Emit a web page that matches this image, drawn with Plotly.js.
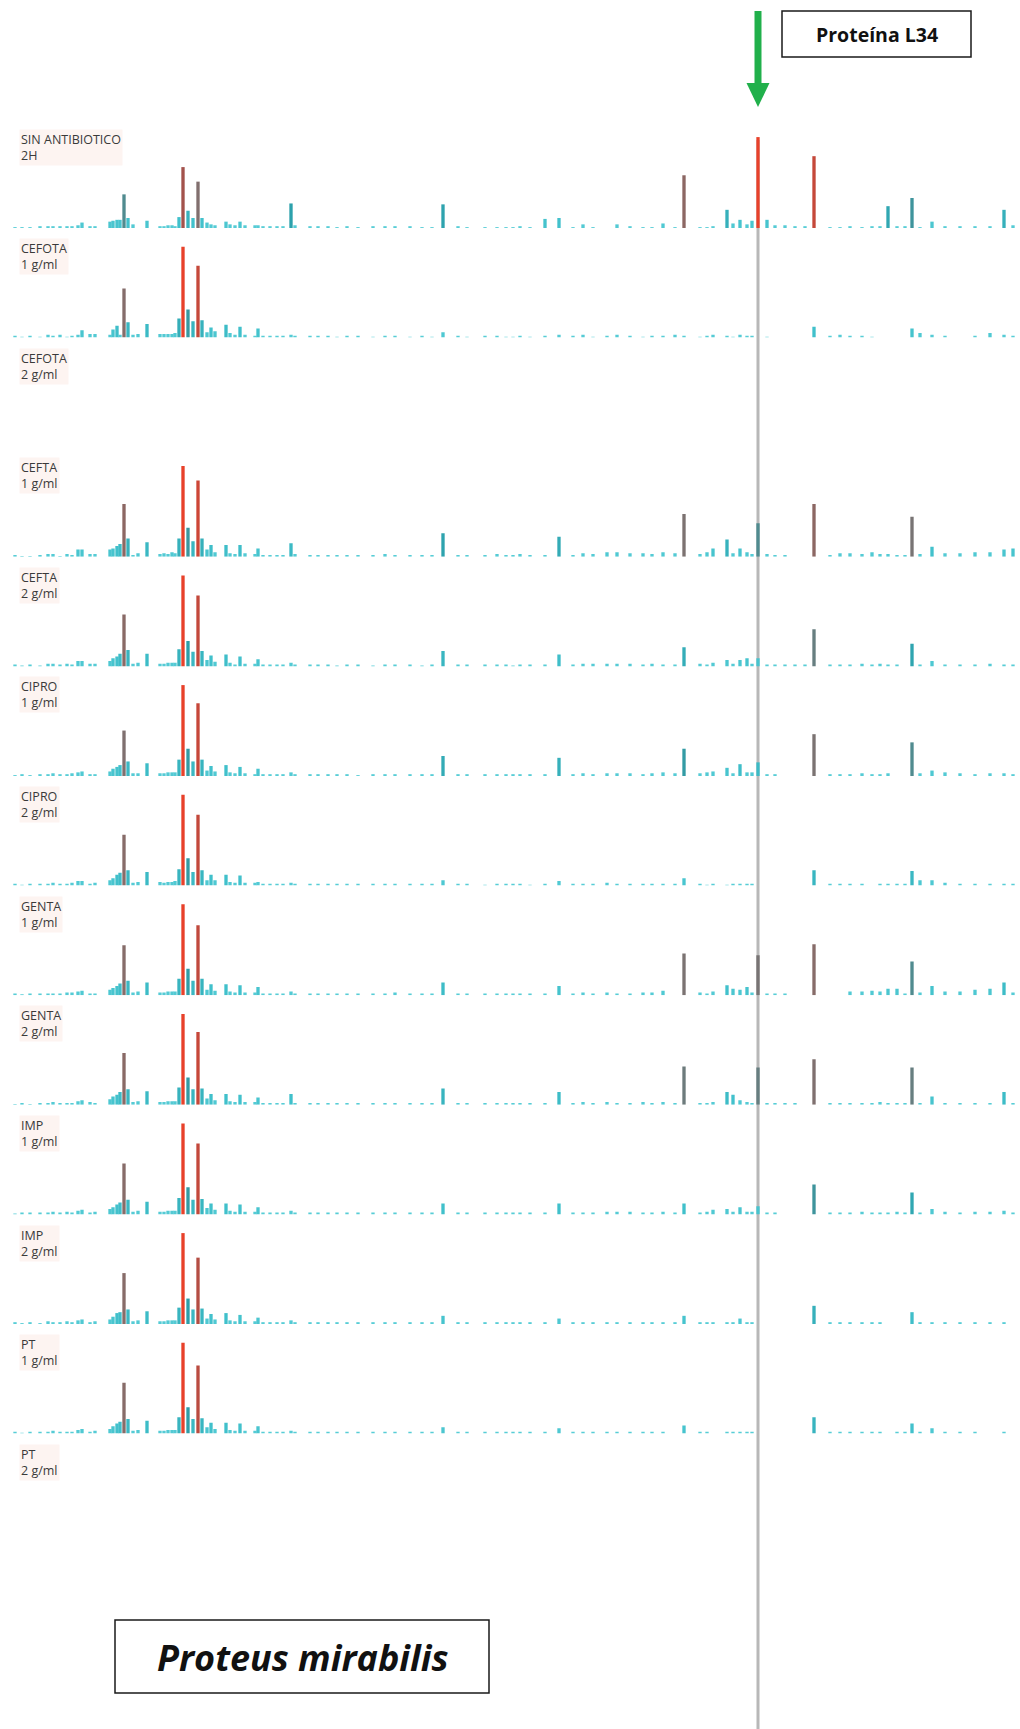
<!DOCTYPE html>
<html>
<head>
<meta charset="utf-8">
<script src="https://cdn.plot.ly/plotly-3.0.1.min.js"></script>
<style>
  html, body { margin: 0; padding: 0; background: #ffffff; }
  #chart { width: 1020px; height: 1729px; }
</style>
</head>
<body>
<div id="chart"></div>
<script>
// Peak positions (m/z) shared by every spectrum
const mz = [
  2270, 2396, 2540, 2720, 2864, 2954, 3080, 3206, 3296, 3404,
  3476, 3620, 3710, 3980, 4034, 4106, 4160, 4232, 4304, 4394,
  4484, 4646, 4880, 4952, 5024, 5096, 5150, 5222, 5294, 5384,
  5474, 5564, 5636, 5726, 5798, 5870, 6068, 6140, 6230, 6320,
  6410, 6590, 6644, 6734, 6860, 6986, 7094, 7238, 7310, 7580,
  7724, 7904, 8066, 8246, 8444, 8714, 8930, 9110, 9380, 9596,
  9776, 9974, 10244, 10406, 10730, 10946, 11108, 11234, 11360, 11540,
  11810, 12062, 12314, 12494, 12674, 12926, 13106, 13340, 13574, 13736,
  13934, 14150, 14312, 14600, 14726, 14834, 15086, 15194, 15320, 15446,
  15536, 15644, 15806, 15950, 16130, 16310, 16490, 16652, 16940, 17120,
  17300, 17516, 17696, 17840, 17984, 18146, 18290, 18416, 18560, 18776,
  19010, 19280, 19550, 19820, 20072, 20234
];

// m/z of ribosomal protein L34
const L34_MZ = 15644;

// Relative intensities (%) per condition, one value per peak in mz
const sinAntibiotico2h = [
  1,1,1,2,2,2,2,2,2,3,
  6,2,2,7,8,9,9,37,11,4,
  0,8,2,2,3,3,2,12,67,19,
  11,51,11,6,4,3,7,4,3,7,
  3,3,3,2,2,2,2,27,3,2,
  2,2,1,2,1,2,2,2,2,1,
  1,26,2,1,1,1,1,1,2,1,
  10,11,1,4,1,0,4,2,1,1,
  5,1,58,1,1,2,20,5,9,4,
  8,100,9,3,3,2,2,79,1,1,
  2,1,2,2,24,2,2,33,1,7,
  2,2,2,2,20,3
];
const cefota1 = [
  2,1,2,1,3,2,3,1,2,3,
  8,4,4,3,9,13,3,54,17,3,
  4,15,4,4,4,4,5,21,100,31,
  18,79,19,6,11,7,14,5,3,12,
  3,2,10,2,2,2,2,3,2,2,
  2,2,1,2,2,1,2,2,1,2,
  1,6,2,1,2,2,1,1,2,1,
  2,3,2,3,1,2,3,2,1,2,
  2,3,2,1,2,3,2,1,3,2,
  2,0,1,0,0,0,0,12,2,3,
  2,2,1,0,0,0,0,10,5,3,
  2,0,2,5,3,2
];
const cefota2 = [];
const cefta1 = [
  2,1,1,2,3,3,1,3,2,8,
  8,3,3,8,9,12,14,58,20,2,
  4,16,3,4,3,5,4,20,100,32,
  17,84,20,8,13,5,13,4,3,13,
  4,3,9,2,2,2,2,15,3,2,
  2,2,2,2,2,2,3,2,2,2,
  2,26,2,2,2,3,2,2,3,2,
  2,22,2,4,3,5,5,4,4,3,
  5,4,47,3,5,9,19,4,9,5,
  3,37,3,2,2,0,0,58,2,4,
  4,3,5,3,3,2,2,44,3,11,
  4,4,5,5,8,9
];
const cefta2 = [
  2,1,2,1,3,3,2,3,2,6,
  6,3,3,6,9,11,14,57,18,3,
  4,14,3,3,4,4,4,19,100,28,
  16,78,17,7,12,5,13,4,2,11,
  3,3,8,2,2,2,2,4,2,2,
  2,2,1,2,2,1,2,2,2,1,
  2,17,2,2,2,2,2,1,2,2,
  2,13,2,3,3,3,3,3,2,3,
  2,2,21,3,2,4,7,3,7,9,
  3,9,2,2,2,2,2,41,2,2,
  2,3,2,3,2,2,0,25,2,6,
  2,2,2,3,2,2
];
const cipro1 = [
  1,2,1,2,2,3,2,2,3,4,
  5,2,2,5,8,10,12,50,16,3,
  3,14,3,3,4,4,4,18,100,30,
  16,80,18,6,11,5,12,4,3,10,
  3,2,8,2,2,2,2,4,2,2,
  2,2,2,2,1,2,2,2,2,2,
  2,22,2,2,2,2,2,2,2,2,
  2,20,2,3,2,3,3,3,2,3,
  4,3,30,3,4,5,9,3,13,4,
  4,15,2,2,0,0,0,46,2,2,
  2,3,2,2,3,0,0,37,3,6,
  4,3,2,3,3,2
];
const cipro2 = [
  2,1,2,2,2,3,2,2,3,5,
  5,2,3,6,8,12,14,56,17,3,
  4,15,4,3,4,4,5,18,100,30,
  15,78,17,6,12,6,12,4,3,11,
  3,3,4,2,2,2,2,3,2,2,
  2,2,2,2,2,2,2,2,2,2,
  2,6,2,2,1,2,2,2,2,1,
  2,5,2,2,2,3,2,2,2,2,
  2,2,8,2,1,2,1,2,2,2,
  2,0,0,0,0,0,0,17,2,2,
  2,2,0,2,2,2,2,16,6,6,
  3,2,2,2,2,2
];
const genta1 = [
  2,1,2,2,2,2,2,3,3,4,
  5,2,2,6,8,10,13,55,16,3,
  4,14,3,3,4,4,4,18,100,29,
  16,77,18,6,12,5,12,4,3,11,
  3,3,9,2,2,2,2,4,2,2,
  2,2,2,2,2,2,2,3,2,2,
  2,14,2,2,2,2,2,2,2,2,
  2,10,2,3,2,3,2,2,3,3,
  5,0,46,3,2,4,11,7,6,9,
  3,44,2,2,2,0,0,56,0,0,
  4,4,5,4,7,7,2,37,3,10,
  4,4,6,7,14,3
];
const genta2 = [
  1,2,1,2,2,3,2,2,2,4,
  5,3,2,6,9,11,14,57,17,3,
  4,15,3,3,4,4,4,19,100,30,
  17,80,18,7,12,5,12,4,3,11,
  3,3,8,2,2,2,2,12,2,2,
  2,2,2,2,2,2,2,2,2,2,
  2,18,2,2,2,2,2,2,2,2,
  2,14,2,3,2,3,2,2,3,2,
  3,2,42,2,2,3,14,11,5,3,
  2,41,2,2,2,2,0,50,2,2,
  2,2,2,3,2,2,2,41,2,9,
  2,2,2,2,14,2
];
const imp1 = [
  1,2,2,2,2,3,2,3,2,4,
  5,2,3,6,8,11,13,56,16,3,
  4,14,3,3,4,4,4,18,100,30,
  16,78,17,7,12,5,12,4,3,11,
  3,3,8,2,2,2,2,4,2,2,
  2,2,2,2,2,2,2,2,2,2,
  2,12,2,2,2,2,2,2,2,2,
  2,12,2,2,2,3,3,3,2,2,
  3,2,12,2,3,5,6,3,8,3,
  3,9,2,2,0,0,0,33,2,2,
  2,3,2,2,2,3,2,24,2,6,
  3,2,3,3,4,2
];
const imp2 = [
  2,1,2,1,3,2,2,3,2,4,
  5,2,3,5,8,12,13,56,16,3,
  4,14,3,3,4,4,4,18,100,28,
  16,73,17,6,11,5,12,4,3,10,
  3,3,7,2,2,2,2,4,2,2,
  2,2,2,2,2,2,2,2,2,2,
  2,9,2,2,2,2,2,2,2,2,
  2,6,2,2,2,2,2,2,2,2,
  2,2,9,2,2,2,2,2,6,2,
  2,0,0,0,0,0,0,20,2,2,
  2,2,2,2,0,0,0,13,2,2,
  2,2,2,2,2,0
];
const pt1 = [
  2,1,2,2,2,3,2,2,2,4,
  5,2,3,5,8,11,13,56,16,3,
  4,14,3,3,4,4,4,18,100,29,
  16,75,17,7,12,5,12,4,3,11,
  3,3,8,2,2,2,2,3,2,2,
  2,2,2,2,2,2,2,2,2,2,
  2,7,2,2,2,2,2,2,2,2,
  2,6,2,2,2,2,2,2,2,2,
  2,0,9,2,2,0,2,2,2,2,
  2,0,0,0,0,0,0,18,2,2,
  2,2,2,2,0,2,2,11,2,6,
  2,2,2,0,2,0
];
const pt2 = [];

// Condition labels (antibiotic, dose)
const antibiotics = ['SIN ANTIBIOTICO', 'CEFOTA', 'CEFOTA', 'CEFTA', 'CEFTA', 'CIPRO', 'CIPRO',
                     'GENTA', 'GENTA', 'IMP', 'IMP', 'PT', 'PT'];
const doses = ['2H', '1 g/ml', '2 g/ml', '1 g/ml', '2 g/ml', '1 g/ml', '2 g/ml',
               '1 g/ml', '2 g/ml', '1 g/ml', '2 g/ml', '1 g/ml', '2 g/ml'];
const spectra = [sinAntibiotico2h, cefota1, cefota2, cefta1, cefta2, cipro1, cipro2,
                 genta1, genta2, imp1, imp2, pt1, pt2];

const proteinLabel = 'Proteína L34';
const organism = 'Proteus mirabilis';

// ---- layout constants (pixels) ----
const W = 1020, H = 1729;
const MZ_MIN = 2000, MZ_MAX = 20360;
const MZ_PER_PX = (MZ_MAX - MZ_MIN) / W;
const FIRST_BASELINE = 228, PANEL_STEP = 109.6, PANEL_H = 100, Y_TOP = 110;
const BAR_W = 60;

// intensity -> colour, from faint cyan through teal and grey-brown to red
const intensityScale = [
  [0.00, '#5ccfd8'],
  [0.12, '#40c0cb'],
  [0.28, '#2b9faa'],
  [0.36, '#4a8e93'],
  [0.44, '#787474'],
  [0.56, '#876c69'],
  [0.66, '#a0534d'],
  [0.78, '#c3483b'],
  [1.00, '#e8412a']
];

const py = p => 1 - p / H;   // pixel row -> paper y
const px = p => p / W;       // pixel column -> paper x

const traces = [];
const layout = {
  width: W, height: H,
  margin: {l: 0, r: 0, t: 0, b: 0},
  paper_bgcolor: '#ffffff', plot_bgcolor: 'rgba(0,0,0,0)',
  showlegend: false,
  barmode: 'overlay',
  shapes: [], annotations: []
};

const labelFont = {family: 'Open Sans, Noto Sans, sans-serif', size: 12.5, color: '#3a3a3a'};

spectra.forEach((vals, i) => {
  const s = i === 0 ? '' : String(i + 1);
  const base = FIRST_BASELINE + PANEL_STEP * i;
  layout['xaxis' + s] = {domain: [0, 1], range: [MZ_MIN, MZ_MAX], visible: false,
                         anchor: 'y' + s, fixedrange: true};
  layout['yaxis' + s] = {domain: [py(base), py(base - PANEL_H)], range: [0, Y_TOP],
                         visible: false, anchor: 'x' + s, fixedrange: true};
  if (vals.length) {
    traces.push({
      type: 'bar', x: mz, y: vals, width: BAR_W,
      xaxis: 'x' + s, yaxis: 'y' + s,
      marker: {color: vals, colorscale: intensityScale, cmin: 0, cmax: 100, line: {width: 0}},
      hoverinfo: 'skip'
    });
  }
  layout.annotations.push({
    xref: 'paper', yref: 'paper', x: px(19), y: py(base - 81), xanchor: 'left', yanchor: 'middle',
    align: 'left', text: antibiotics[i] + '<br>' + doses[i], showarrow: false, font: labelFont,
    bgcolor: 'rgba(251,236,231,0.6)', borderpad: 1
  });
});

// L34 marker line through all spectra
layout.shapes.push({
  type: 'line', xref: 'x', yref: 'paper', x0: L34_MZ, x1: L34_MZ,
  y0: 0, y1: py(140), line: {color: '#b8b8b8', width: 3}, layer: 'below'
});

// green arrow pointing at L34
const shaftHalf = 3.5 * MZ_PER_PX, headHalf = 11.5 * MZ_PER_PX;
layout.shapes.push({
  type: 'rect', xref: 'x', yref: 'paper',
  x0: L34_MZ - shaftHalf, x1: L34_MZ + shaftHalf, y0: py(84), y1: py(11),
  fillcolor: '#21b04b', line: {width: 0}
});
layout.shapes.push({
  type: 'path', xref: 'x', yref: 'paper',
  path: `M ${L34_MZ - headHalf},${py(83)} L ${L34_MZ + headHalf},${py(83)} L ${L34_MZ},${py(107)} Z`,
  fillcolor: '#21b04b', line: {width: 0}
});

// protein label box
layout.shapes.push({
  type: 'rect', xref: 'paper', yref: 'paper',
  x0: px(782), x1: px(971), y0: py(57), y1: py(11),
  line: {color: '#1a1a1a', width: 1.5}, fillcolor: 'rgba(0,0,0,0)'
});
layout.annotations.push({
  xref: 'paper', yref: 'paper', x: px(876.5), y: py(35), xanchor: 'center', yanchor: 'middle',
  text: '<b>' + proteinLabel + '</b>', showarrow: false,
  font: {family: 'Open Sans, sans-serif', size: 19.5, color: '#111111'}
});

// organism box
layout.shapes.push({
  type: 'rect', xref: 'paper', yref: 'paper',
  x0: px(115), x1: px(489), y0: py(1693), y1: py(1620),
  line: {color: '#1a1a1a', width: 1.5}, fillcolor: 'rgba(0,0,0,0)'
});
layout.annotations.push({
  xref: 'paper', yref: 'paper', x: px(302), y: py(1657), xanchor: 'center', yanchor: 'middle',
  text: '<b><i>' + organism + '</i></b>', showarrow: false,
  font: {family: 'Open Sans, sans-serif', size: 36, color: '#111111'}
});

Plotly.newPlot('chart', traces, layout, {staticPlot: true, displayModeBar: false});
</script>
</body>
</html>
